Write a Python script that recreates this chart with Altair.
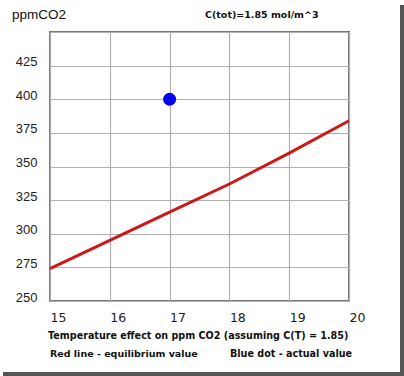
import altair as alt
import pandas as pd

temps = [15, 16, 17, 18, 19, 20]
equilibrium_ppm = [274, 295, 316, 337, 360, 384]
actual_temp = [17]
actual_ppm = [400]
y_ticks = [250, 275, 300, 325, 350, 375, 400, 425]
x_ticks = [15, 16, 17, 18, 19, 20]

line_df = pd.DataFrame({"T": temps, "ppm": equilibrium_ppm})
dot_df = pd.DataFrame({"T": actual_temp, "ppm": actual_ppm})

xscale = alt.Scale(domain=[15, 20], nice=False, zero=False)
yscale = alt.Scale(domain=[250, 450], nice=False, zero=False)

xaxis = alt.Axis(values=x_ticks, title=None, grid=True, gridColor="#b0b0b0", gridWidth=1.2,
                 domain=False, ticks=False, labelFont="DejaVu Sans", labelFontSize=12.5,
                 labelColor="#222", labelAlign="left", labelBaseline="top", labelPadding=10,
                 labelFlush=False, labelOverlap=False, format="d")
yaxis = alt.Axis(values=y_ticks + [450], title=None, grid=True, gridColor="#b0b0b0", gridWidth=1.2,
                 domain=False, ticks=False, labelFont="Liberation Sans", labelFontSize=13,
                 labelColor="#222", labelPadding=13, labelOffset=-4, labelOverlap=False,
                 labelFlush=False, format="d",
                 labelExpr="datum.value == 450 ? '' : datum.label")

line = alt.Chart(line_df).mark_line(color="#cc1818", strokeWidth=3).encode(
    x=alt.X("T:Q", scale=xscale, axis=xaxis),
    y=alt.Y("ppm:Q", scale=yscale, axis=yaxis),
)
dot = alt.Chart(dot_df).mark_point(filled=True, color="#0000ee", size=170, opacity=1).encode(
    x=alt.X("T:Q", scale=xscale, axis=xaxis),
    y=alt.Y("ppm:Q", scale=yscale, axis=yaxis),
)

def txt(s, x, y, size, bold=False, font="DejaVu Sans", align="left"):
    return alt.Chart(pd.DataFrame({"t": [s]})).mark_text(
        font=font, fontSize=size, fontWeight="bold" if bold else "normal",
        align=align, baseline="middle", color="#111"
    ).encode(text="t:N", x=alt.value(x), y=alt.value(y))

texts = [
    txt("ppmCO2", -38, -17, 13.5, font="Liberation Sans"),
    txt("C(tot)=1.85 mol/m^3", 155, -17, 9.5, bold=True),
    txt("Temperature effect on ppm CO2 (assuming C(T) = 1.85)", -2, 304, 9.6, bold=True),
    txt("Red line - equilibrium value", 0, 322, 9.5, bold=True),
    txt("Blue dot - actual value", 180, 322, 9.6, bold=True),
]

shadow_r = alt.Chart(pd.DataFrame({"a": [0]})).mark_rule(color="#555", strokeWidth=4).encode(
    x=alt.value(352), y=alt.value(-27), y2=alt.value(344))
shadow_b = alt.Chart(pd.DataFrame({"a": [0]})).mark_rule(color="#555", strokeWidth=4).encode(
    x=alt.value(-47), x2=alt.value(354), y=alt.value(342))

chart = alt.layer(line, dot, *texts, shadow_r, shadow_b).properties(
    width=299, height=269,
    autosize=alt.AutoSizeParams(type="none"),
    padding={"left": 50, "top": 32, "right": 55, "bottom": 75},
    background="white",
).configure_view(stroke="#777777", strokeWidth=2).configure_axis(labelOverlap=False)

chart.save("out.html", embed_options={"renderer": "svg", "actions": False})
